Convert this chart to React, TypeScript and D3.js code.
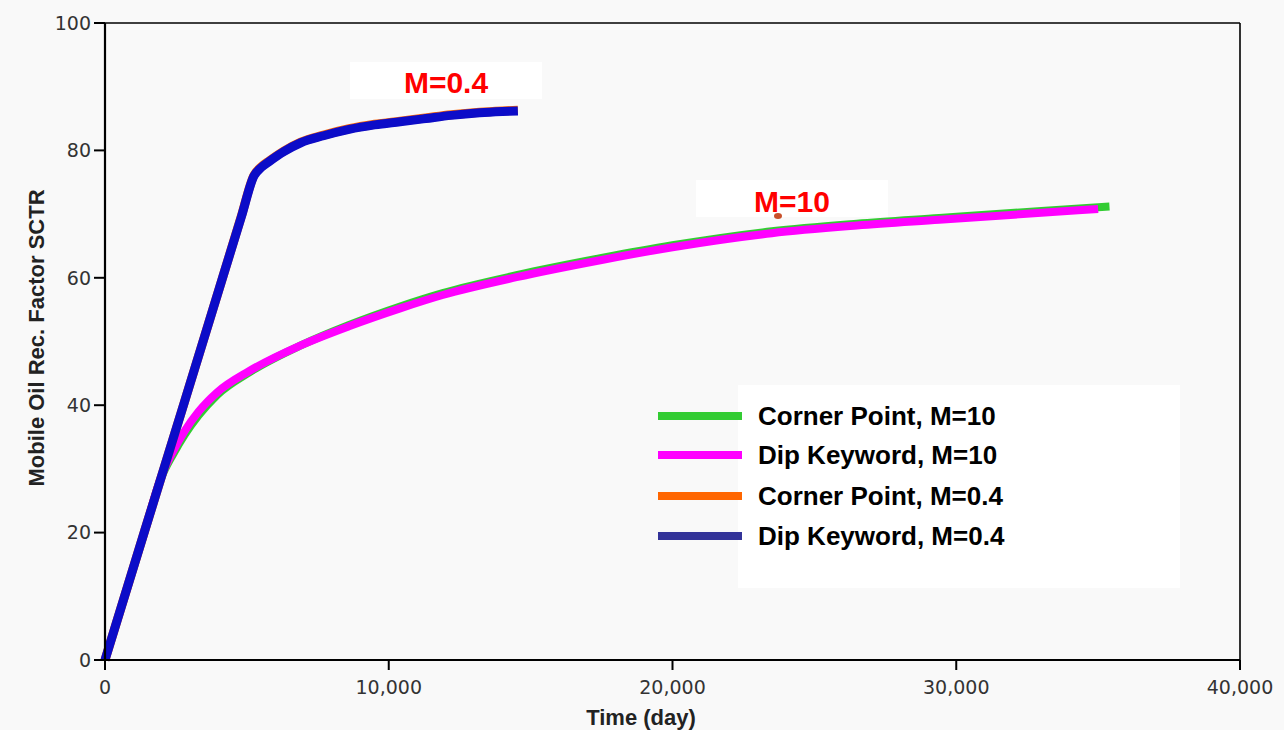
import React from "react";
import * as d3 from "d3";

// Recovery curves: time in days, mobile oil recovery factor in percent
const cornerM10Days = [0, 1400, 2000, 2400, 2800, 3300, 3950, 5100, 6900, 8600, 10400, 11900, 14500, 17500, 20000, 23500, 26500, 29400, 33000, 35400];
const cornerM10 = [0, 20.2, 28.8, 32.3, 35.3, 38.4, 41.6, 45.2, 49.4, 52.6, 55.5, 57.6, 60.4, 63.1, 65.1, 67.3, 68.5, 69.4, 70.5, 71.2];

const dipM10Days = [0, 1400, 2000, 2400, 2800, 3300, 3950, 5100, 6900, 8600, 10400, 11900, 14500, 17500, 20000, 23500, 26500, 29400, 33000, 35000];
const dipM10 = [0, 20.3, 29.0, 32.8, 35.9, 39.0, 42.0, 45.4, 49.4, 52.4, 55.2, 57.3, 60.1, 62.8, 64.8, 67.0, 68.2, 69.1, 70.2, 70.8];

const cornerM04Days = [0, 1400, 2800, 4150, 4800, 5250, 5500, 5800, 6300, 6900, 7700, 8600, 9500, 10400, 11300, 12200, 13200, 14000, 14550];
const cornerM04 = [0, 20.3, 40.5, 60.1, 69.6, 76.1, 77.4, 78.4, 79.9, 81.3, 82.4, 83.4, 84.1, 84.6, 85.1, 85.6, 86.0, 86.2, 86.3];

const dipM04Days = [0, 1400, 2800, 4150, 4800, 5250, 5500, 5800, 6300, 6900, 7700, 8600, 9500, 10400, 11300, 12200, 13200, 14000, 14550];
const dipM04 = [0, 20.3, 40.5, 60.1, 69.5, 76.0, 77.3, 78.3, 79.8, 81.2, 82.3, 83.3, 84.0, 84.5, 85.0, 85.5, 85.9, 86.1, 86.2];

const xTicks = [0, 10000, 20000, 30000, 40000];
const yTicks = [0, 20, 40, 60, 80, 100];

const seriesNames = ["Corner Point, M=10", "Dip Keyword, M=10", "Corner Point, M=0.4", "Dip Keyword, M=0.4"];
const legendColors = ["#33cc33", "#ff00ff", "#ff6600", "#333399"];
const lineColors = ["#33cc33", "#ff00ff", "#ff6600", "#0c0cc8"];
const lineWidths = [8, 8, 9, 9];

const W = 1284;
const H = 730;
const left = 105;
const right = 1240;
const top = 23;
const bottom = 660;

export default function App() {
  const x = d3.scaleLinear().domain([0, 40000]).range([left, right]);
  const y = d3.scaleLinear().domain([0, 100]).range([bottom, top]);
  const fmt = d3.format(",");

  const series = [
    { days: cornerM10Days, vals: cornerM10 },
    { days: dipM10Days, vals: dipM10 },
    { days: cornerM04Days, vals: cornerM04 },
    { days: dipM04Days, vals: dipM04 },
  ];

  const line = d3
    .line<[number, number]>()
    .x((d) => x(d[0]))
    .y((d) => y(d[1]))
    .curve(d3.curveMonotoneX);

  const tickFont = "'DejaVu Sans', Verdana, sans-serif";
  const boldFont = "'Liberation Sans', Arial, sans-serif";

  const legendY = [416, 455, 496, 536];

  return (
    <svg
      width={W}
      height={H}
      style={{ position: "absolute", left: 0, top: 0, background: "#f9f9f9" }}
    >
      <rect x={0} y={0} width={W} height={H} fill="#f9f9f9" />

      {/* curve labels */}
      <rect x={350} y={62} width={192} height={37} fill="#ffffff" />
      <text x={446} y={93} textAnchor="middle" fontFamily={boldFont} fontWeight="bold" fontSize={30} fill="#ff0000">
        M=0.4
      </text>
      <rect x={696} y={180} width={192} height={37} fill="#ffffff" />
      <text x={792} y={212} textAnchor="middle" fontFamily={boldFont} fontWeight="bold" fontSize={30} fill="#ff0000">
        M=10
      </text>
      <ellipse cx={778} cy={216} rx={4} ry={3} fill="#c8502a" />

      {/* legend */}
      <rect x={738} y={385} width={442} height={203} fill="#ffffff" />
      {seriesNames.map((name, i) => (
        <g key={name}>
          <line x1={658} x2={742} y1={legendY[i]} y2={legendY[i]} stroke={legendColors[i]} strokeWidth={8} />
          <text
            x={758}
            y={legendY[i]}
            dy="0.36em"
            fontFamily={boldFont}
            fontWeight="bold"
            fontSize={26}
            fill="#000"
          >
            {name}
          </text>
        </g>
      ))}

      {/* data curves */}
      {series.map((s, i) => (
        <path
          key={i}
          d={line(s.days.map((d, j) => [d, s.vals[j]] as [number, number])) || ""}
          fill="none"
          stroke={lineColors[i]}
          strokeWidth={lineWidths[i]}
          strokeLinejoin="round"
        />
      ))}

      {/* frame */}
      <line x1={left} x2={right} y1={top} y2={top} stroke="#000" strokeWidth={1.6} />
      <line x1={right} x2={right} y1={top} y2={bottom} stroke="#000" strokeWidth={1.6} />
      <line x1={left} x2={right} y1={bottom} y2={bottom} stroke="#000" strokeWidth={2.2} />
      <line x1={left} x2={left} y1={top} y2={bottom} stroke="#000" strokeWidth={2.2} />

      {/* y axis */}
      {yTicks.map((t) => (
        <g key={t}>
          <line x1={left - 11} x2={left} y1={y(t)} y2={y(t)} stroke="#000" strokeWidth={2} />
          <text x={91} y={y(t)} dy="0.36em" textAnchor="end" fontFamily={tickFont} fontSize={19} fill="#333">
            {t}
          </text>
        </g>
      ))}

      {/* x axis */}
      {xTicks.map((t) => (
        <g key={t}>
          <line x1={x(t)} x2={x(t)} y1={bottom} y2={bottom + 10} stroke="#000" strokeWidth={2} />
          <text x={x(t)} y={687} dy="0.36em" textAnchor="middle" fontFamily={tickFont} fontSize={19} fill="#333">
            {fmt(t)}
          </text>
        </g>
      ))}

      <text x={641} y={717} dy="0.36em" textAnchor="middle" fontFamily={boldFont} fontWeight="bold" fontSize={22} fill="#222">
        Time (day)
      </text>
      <text
        transform={`translate(36, 338) rotate(-90)`}
        dy="0.36em"
        textAnchor="middle"
        fontFamily={boldFont}
        fontWeight="bold"
        fontSize={22}
        fill="#222"
      >
        Mobile Oil Rec. Factor SCTR
      </text>
    </svg>
  );
}
